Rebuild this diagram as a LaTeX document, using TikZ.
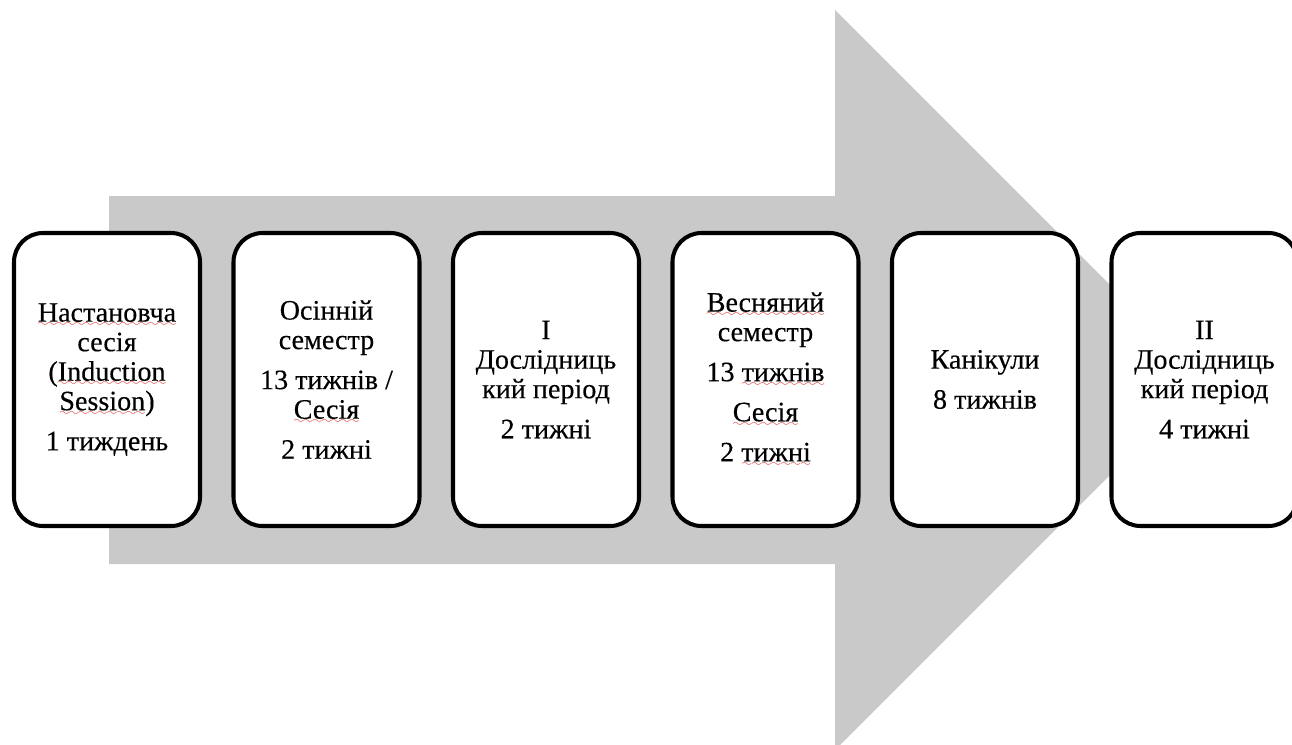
\documentclass[tikz,border=0pt]{standalone}
\usepackage{fontspec}
\setmainfont{Liberation Serif}
\newfontfamily\periodfont[FakeBold=0.3]{Liberation Serif}
\usetikzlibrary{positioning}
\definecolor{arrowgray}{RGB}{201,201,201}
\definecolor{spellred}{RGB}{225,45,45}
\font\wavefont=lasy6
\newcommand{\spell}[1]{\setbox0\hbox{#1}\rlap{\lower3pt\hbox to\wd0{\color{spellred}\xleaders\hbox{\wavefont\char58}\hfil}}\box0}
\tikzset{
    period/.style = {
        draw,
        line width=2.3pt,
        rounded corners=0.58cm,
        fill = white,
        minimum width=3.72cm,
        minimum height=5.86cm,
        outer sep=0pt,
        align=center,
        font=\periodfont\fontsize{16}{16.8}\selectfont,
        },
    big arrow/.style = {
        fill = arrowgray,
        },
}

\begin{document}
\begin{tikzpicture}[node distance=0.67cm]
            \useasboundingbox (0,0) rectangle (25.84,14.88);
            \clip (0,0) rectangle (25.84,14.88);

            \fill[big arrow] (2.18,3.6) -- (2.18,10.96) -- (16.7,10.96) -- (16.7,14.68)
                -- (24.1,7.28) -- (16.7,-0.12) -- (16.7,3.6) -- cycle;

            \node[period] (1) at (2.14,7.29) {\spell{Настановча}\\сесія\\(\spell{Induction}\\\spell{Session})\\[6pt]1 тиждень};
            \node[period, right=of 1] (2) {Осінній\\семестр\\[6pt]13 тижнів /\\\spell{Сесія}\\[6pt]2 тижні};
            \node[period, right=of 2] (3) {I\\Дослідниць\\кий період\\[6pt]2 тижні};
            \node[period, right=of 3] (4) {\spell{Весняний}\\семестр\\[6pt]13 \spell{тижнів}\\[6pt]\spell{Сесія}\\[6pt]2 \spell{тижні}};
            \node[period, right=of 4] (5) {Канікули\\[6pt]8 тижнів};
            \node[period, right=of 5] (6) {II\\Дослідниць\\кий період\\[6pt]4 тижні};
        \end{tikzpicture}
\end{document}
